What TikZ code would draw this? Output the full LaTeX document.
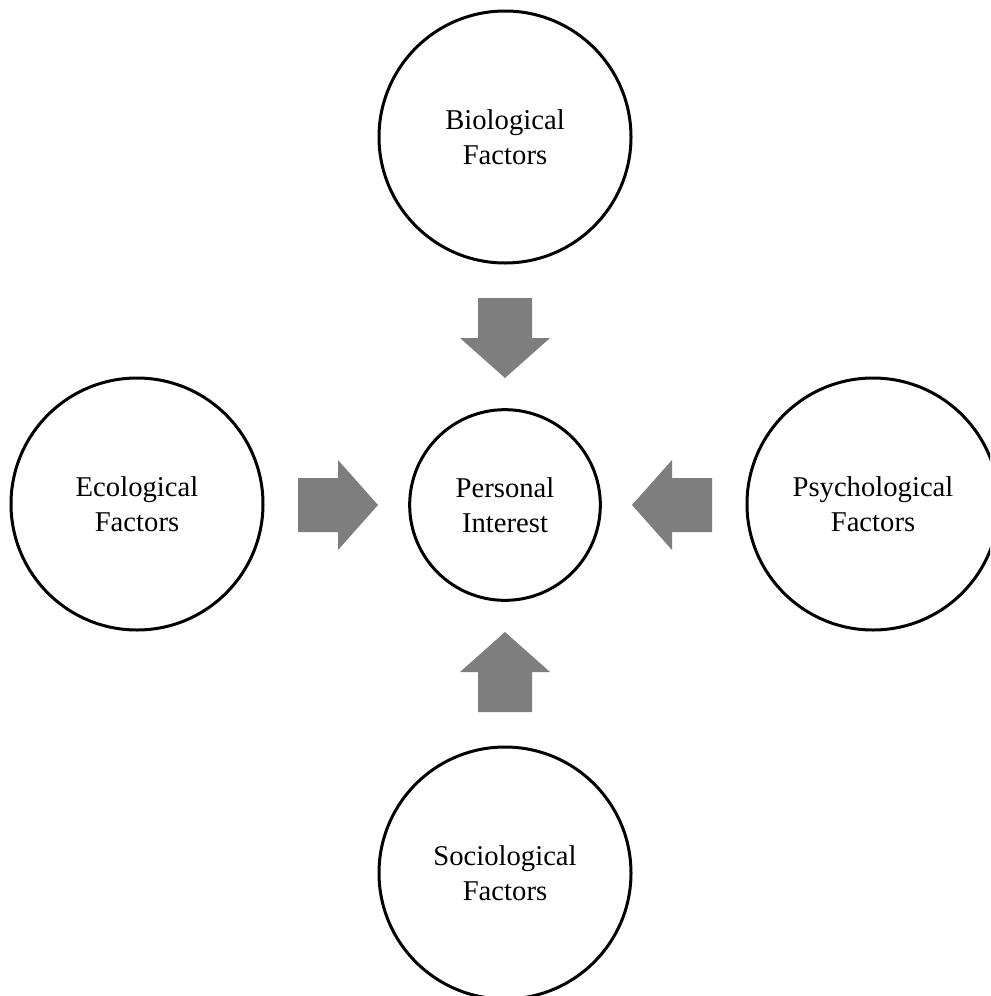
\documentclass[tikz,border=0pt]{standalone}
\usepackage{fontspec}
\setmainfont{Liberation Serif}
\definecolor{arrowgray}{RGB}{126,126,126}
\tikzset{
  factor/.style={circle, draw=black, line width=2.25pt, minimum size=189pt, inner sep=0pt,
    align=center, font=\fontsize{21.5}{26}\selectfont},
  core/.style={factor, minimum size=143pt},
  blockarrow/.style={fill=arrowgray, draw=none}
}
\newcommand\blockarr[2]{%
  \fill[blockarrow, shift={(#1)}, rotate=#2]
    (-27,-207) -- (27,-207) -- (27,-167) -- (45,-167) -- (0,-127)
    -- (-45,-167) -- (-27,-167) -- cycle;}
\begin{document}
\begin{tikzpicture}[x=0.75pt, y=-0.75pt]
\useasboundingbox (0,0) rectangle (990,996);
\clip (0,0) rectangle (990,996);
\fill[white] (0,0) rectangle (990,996);
\node[core] (pi) at (505,505) {Personal\\Interest};
\node[factor] (bio) at (505,137) {Biological\\Factors};
\node[factor] (eco) at (137,504) {Ecological\\Factors};
\node[factor] (psy) at (873,504) {Psychological\\Factors};
\node[factor] (soc) at (505,873) {Sociological\\Factors};
\blockarr{pi.center}{0}
\blockarr{pi.center}{90}
\blockarr{pi.center}{180}
\blockarr{pi.center}{270}
\end{tikzpicture}
\end{document}
